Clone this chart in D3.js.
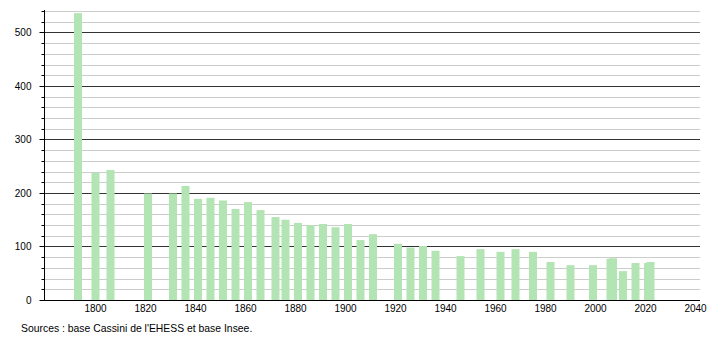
<!DOCTYPE html>
<html>
<head>
<meta charset="utf-8">
<script src="https://cdn.jsdelivr.net/npm/d3@7"></script>
<style>
  body { margin: 0; background: #fff; }
  svg text { font-family: "Liberation Sans", Arial, sans-serif; }
</style>
</head>
<body>
<div id="chart"></div>
<script>
// Population par année de recensement
const years = [1793, 1800, 1806, 1821, 1831, 1836, 1841, 1846, 1851, 1856, 1861, 1866,
  1872, 1876, 1881, 1886, 1891, 1896, 1901, 1906, 1911, 1921, 1926, 1931, 1936, 1946,
  1954, 1962, 1968, 1975, 1982, 1990, 1999, 2006, 2007, 2011, 2016, 2021, 2022];
const population = [536, 238, 243, 199, 199, 213, 189, 191, 186, 170, 183, 168,
  155, 150, 144, 140, 142, 136, 142, 112, 123, 105, 98, 101, 92, 82,
  95, 90, 95, 90, 71, 65, 65, 77, 78, 54, 69, 69, 71];
const xTicks = [1800, 1820, 1840, 1860, 1880, 1900, 1920, 1940, 1960, 1980, 2000, 2020, 2040];
const yMajor = [0, 100, 200, 300, 400, 500];
const yMinor = d3.range(20, 560, 20).filter(v => v % 100 !== 0);
const source = "Sources : base Cassini de l'EHESS et base Insee.";

const width = 710, height = 340;
const svg = d3.select("#chart").append("svg")
  .attr("width", width)
  .attr("height", height);

const x = d3.scaleLinear().domain([1780, 2042]).range([45.5, 700.5]);
const y = d3.scaleLinear().domain([0, 540]).range([300, 11]);
const barW = 8;

// lignes de grille
svg.append("g")
  .selectAll("line")
  .data(yMinor)
  .enter()
  .append("line")
  .attr("x1", 44).attr("x2", 700)
  .attr("y1", d => Math.round(y(d)) + 0.5).attr("y2", d => Math.round(y(d)) + 0.5)
  .attr("stroke", "#cccccc");

svg.append("g")
  .selectAll("line")
  .data(yMajor.filter(d => d > 0))
  .enter()
  .append("line")
  .attr("x1", 44).attr("x2", 700)
  .attr("y1", d => Math.round(y(d)) + 0.5).attr("y2", d => Math.round(y(d)) + 0.5)
  .attr("stroke", "#333333");

// barres
svg.selectAll(".bar")
  .data(years)
  .enter()
  .append("rect")
  .attr("class", "bar")
  .attr("x", (d, i) => x(d) - barW / 2)
  .attr("y", (d, i) => y(population[i]))
  .attr("width", barW)
  .attr("height", (d, i) => y(0) - y(population[i]))
  .attr("fill", "#b3e4b3");

// axe Y
const yAxis = svg.append("g").attr("transform", "translate(44.5,0)");
yAxis.append("line")
  .attr("x1", 0).attr("x2", 0)
  .attr("y1", 10).attr("y2", 300)
  .attr("stroke", "#000");
yAxis.selectAll(".minor")
  .data(yMinor)
  .enter()
  .append("line")
  .attr("x1", -3).attr("x2", 0)
  .attr("y1", d => Math.round(y(d)) + 0.5).attr("y2", d => Math.round(y(d)) + 0.5)
  .attr("stroke", "#000");
yAxis.selectAll(".major")
  .data(yMajor)
  .enter()
  .append("line")
  .attr("x1", -5).attr("x2", 0)
  .attr("y1", d => Math.round(y(d)) + 0.5).attr("y2", d => Math.round(y(d)) + 0.5)
  .attr("stroke", "#000");
yAxis.selectAll("text")
  .data(yMajor)
  .enter()
  .append("text")
  .attr("x", -13)
  .attr("y", d => y(d) + 4)
  .attr("text-anchor", "end")
  .style("font-size", "10px")
  .attr("fill", "#000")
  .text(d => d);

// axe X
svg.append("line")
  .attr("x1", 44).attr("x2", 700)
  .attr("y1", 300.5).attr("y2", 300.5)
  .attr("stroke", "#000");
svg.append("g")
  .selectAll("text")
  .data(xTicks)
  .enter()
  .append("text")
  .attr("x", d => x(d))
  .attr("y", 312)
  .attr("text-anchor", "middle")
  .style("font-size", "10px")
  .attr("fill", "#000")
  .text(d => d);

svg.append("text")
  .attr("x", 21)
  .attr("y", 332)
  .style("font-size", "10.4px")
  .attr("fill", "#000")
  .text(source);
</script>
</body>
</html>
